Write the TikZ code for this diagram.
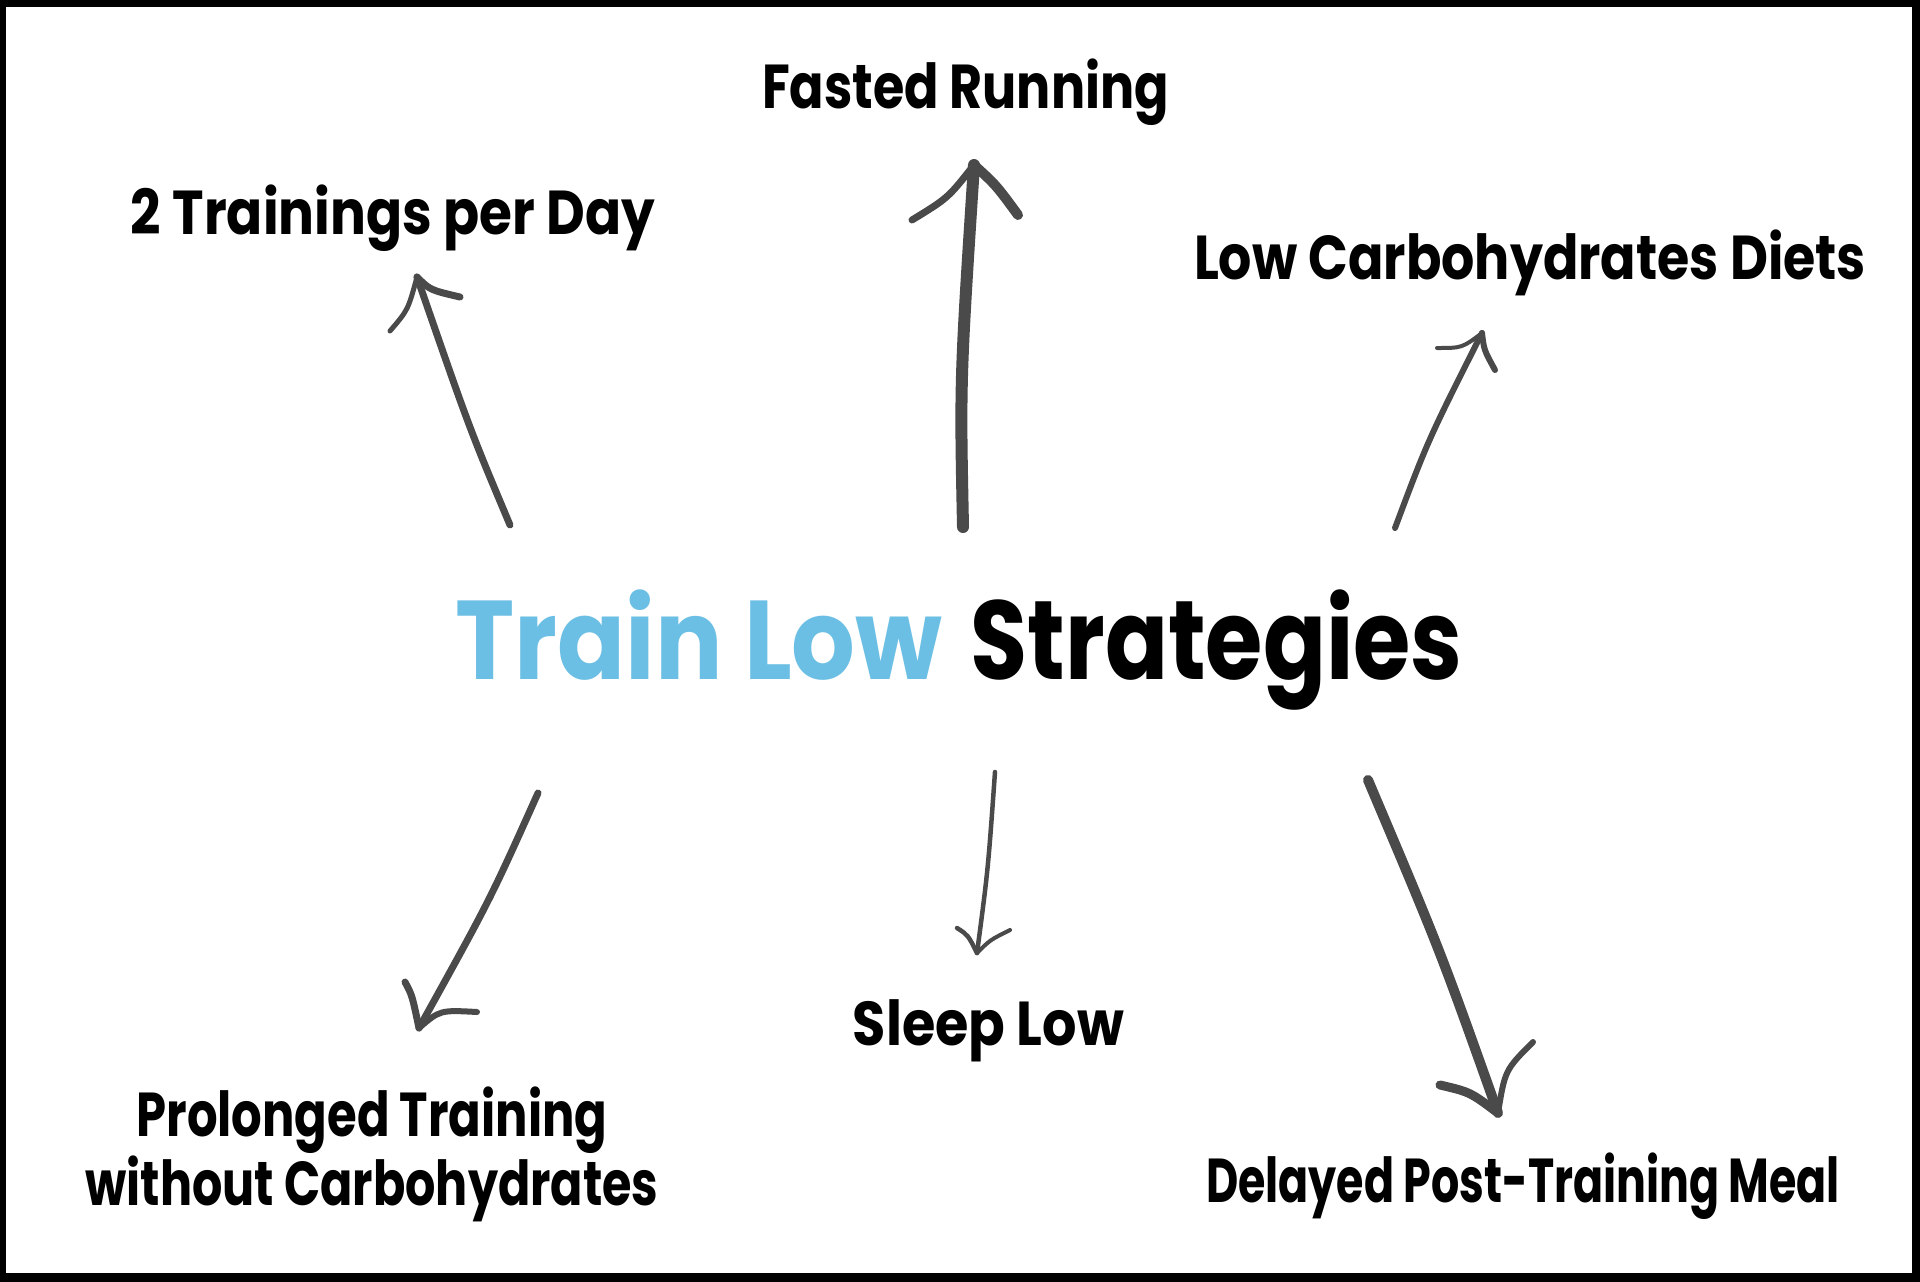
\documentclass[tikz,border=0pt]{standalone}
\usepackage{fontspec}
\usepackage{graphicx}
\setmainfont{Poppins}
\definecolor{tlblue}{HTML}{6CBFE4}
\definecolor{arrowgray}{HTML}{4A4A4A}
\newcommand{\fitw}[2]{\resizebox{#1pt}{\height}{#2}}
\tikzset{
  lbl/.style={inner sep=0pt, anchor=base, font=\fontsize{62}{65}\selectfont\bfseries, text=black},
  title/.style={inner sep=0pt, anchor=base, font=\fontsize{112}{112}\selectfont\bfseries},
  brush/.style={draw=arrowgray, line cap=round, line join=round},
}
\begin{document}
\begin{tikzpicture}[x=1pt,y=-1pt]
\useasboundingbox (0,0) rectangle (1920,1282);
\fill[black] (0,0) rectangle (1920,1282);
\fill[white] (6,7) rectangle (1912,1273);

% labels
\node[title] (center) at (959,679) {\fitw{487}{\textcolor{tlblue}{Train Low}}\hspace{28pt}\fitw{492}{\textcolor{black}{Strategies}}};
\node[lbl] (fasted) at (965.5,108) {\fitw{407}{Fasted Running}};
\node[lbl] (twotrain) at (393,234) {\fitw{524}{2 Trainings per Day}};
\node[lbl] (lowcarb) at (1530,279) {\fitw{672}{Low Carbohydrates Diets}};
\node[lbl] (sleep) at (988.5,1045) {\fitw{271}{Sleep Low}};
\node[lbl] (prolonged) at (372,1136) {\begin{tabular}[t]{@{}c@{}}\fitw{471}{Prolonged Training}\\\fitw{573}{without Carbohydrates}\end{tabular}};
\node[lbl] (delayed) at (1523,1202) {\fitw{634}{Delayed Post-Training Meal}};

% arrow end points
\coordinate (a1s) at (510,525); \coordinate (a1t) at (417,277);
\coordinate (a1l) at (390,331); \coordinate (a1r) at (460,297);
\coordinate (a2s) at (963,527); \coordinate (a2t) at (974,165);
\coordinate (a2l) at (912,220); \coordinate (a2r) at (1018,215);
\coordinate (a3s) at (1395,528); \coordinate (a3t) at (1482,333);
\coordinate (a3l) at (1437,348); \coordinate (a3r) at (1495,370);
\coordinate (a4s) at (538,793); \coordinate (a4t) at (419,1028);
\coordinate (a4l) at (405,982); \coordinate (a4r) at (477,1012);
\coordinate (a5s) at (995,772); \coordinate (a5t) at (977,953);
\coordinate (a5l) at (957,928); \coordinate (a5r) at (1010,930);
\coordinate (a6s) at (1368,780); \coordinate (a6t) at (1498,1113);
\coordinate (a6l) at (1440,1085); \coordinate (a6r) at (1533,1042);

% 2 Trainings per Day
\draw[brush, line width=7pt] (a1s) .. controls (470,430) .. (a1t);
\draw[brush, line width=5pt] (a1l) .. controls (408,310) .. (a1t);
\draw[brush, line width=7pt] (a1t) .. controls (430,290) .. (a1r);
% Fasted Running
\draw[brush, line width=12pt] (a2s) .. controls (960,380) .. (a2t);
\draw[brush, line width=7pt] (a2l) .. controls (948,198) .. (a2t);
\draw[brush, line width=10pt] (a2t) .. controls (996,185) .. (a2r);
% Low Carbohydrates Diets
\draw[brush, line width=6pt] (a3s) .. controls (1428,440) .. (a3t);
\draw[brush, line width=4pt] (a3l) .. controls (1462,348) .. (a3t);
\draw[brush, line width=6pt] (a3t) .. controls (1484,350) .. (a3r);
% Prolonged Training
\draw[brush, line width=7pt] (a4s) .. controls (490,900) .. (a4t);
\draw[brush, line width=7pt] (a4l) .. controls (412,995) .. (a4t);
\draw[brush, line width=6pt] (a4t) .. controls (440,1010) .. (a4r);
% Sleep Low
\draw[brush, line width=4.5pt] (a5s) .. controls (988,870) .. (a5t);
\draw[brush, line width=4.5pt] (a5l) .. controls (968,935) .. (a5t);
\draw[brush, line width=4pt] (a5t) .. controls (990,940) .. (a5r);
% Delayed Post-Training Meal
\draw[brush, line width=10pt] (a6s) .. controls (1440,950) .. (a6t);
\draw[brush, line width=9pt] (a6l) .. controls (1470,1092) .. (a6t);
\draw[brush, line width=6pt] (a6t) .. controls (1505,1070) .. (a6r);
\end{tikzpicture}
\end{document}
